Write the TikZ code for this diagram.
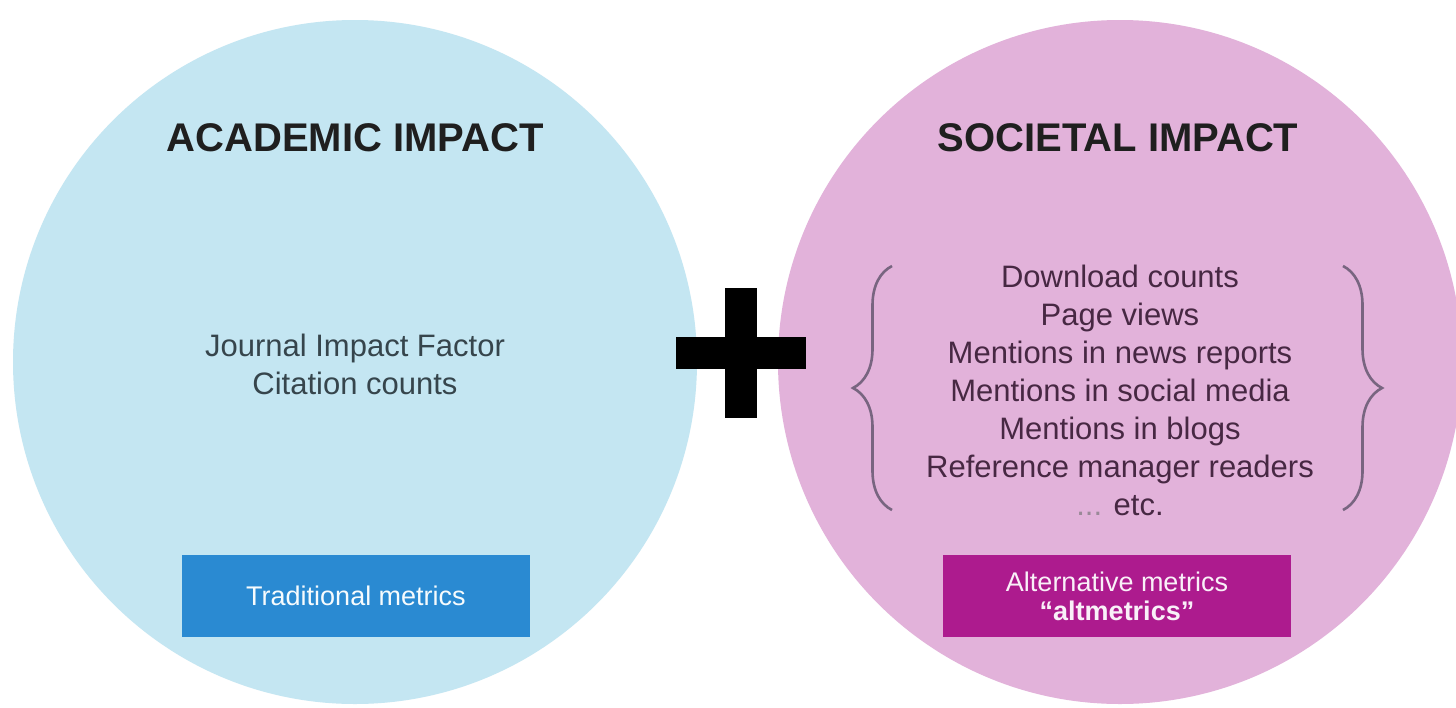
\documentclass[tikz,border=0pt]{standalone}
\usepackage{fontspec}
\setmainfont{Liberation Sans}
\usetikzlibrary{decorations.pathreplacing}
\definecolor{acadfill}{HTML}{C4E6F2}
\definecolor{socfill}{HTML}{E2B2DA}
\definecolor{acadbox}{HTML}{2A8AD2}
\definecolor{socbox}{HTML}{AD1B8E}
\definecolor{acadtext}{HTML}{36454C}
\definecolor{soctext}{HTML}{472843}
\definecolor{bracecol}{HTML}{786580}
\tikzset{impact/.style={circle,inner sep=0pt,minimum size=342pt},
    heading/.style={font=\fontsize{20}{24}\bfseries\selectfont,text=black!88},
    listing/.style={align=center,font=\fontsize{15.5}{19}\selectfont},
    metricbox/.style={minimum width=174pt,minimum height=41pt,align=center,
        font=\fontsize{13.5}{14.5}\selectfont}}

\begin{document}
\begin{tikzpicture}[x=0.5pt,y=-0.5pt,
        curly/.style={decorate,decoration={brace,amplitude=19.5pt},bracecol,line width=1.3pt}]
        \useasboundingbox[fill=white] (0,0) rectangle (1456,707);
        \node (acad) [impact,fill=acadfill] at (355,362) {};
        \node (soc) [impact,fill=socfill] at (1120,362) {};

        \node (acadhead) [heading] at (355,138) {ACADEMIC IMPACT};
        \node (sochead) [heading] at (1118,138) {SOCIETAL IMPACT};

        \node (acadlist) [listing,text=acadtext] at (355,364)
        {Journal Impact Factor\\Citation counts};
        \node (soclist) [listing,text=soctext] at (1120,390)
        {Download counts\\Page views\\Mentions in news reports\\Mentions in social media\\
         Mentions in blogs\\Reference manager readers\\\textcolor{soctext!55}{...} etc.};

        \node (tradbox) [metricbox,fill=acadbox,text=white!85!acadfill] at (356,596)
        {Traditional metrics};
        \node (altbox) [metricbox,fill=socbox,text=white!80!socfill] at (1117,596)
        {Alternative metrics\\\textbf{“altmetrics”}};

        \coordinate (lbrace top) at (892,266);
        \coordinate (lbrace bot) at (892,510);
        \coordinate (rbrace top) at (1343,266);
        \coordinate (rbrace bot) at (1343,510);
        \draw[curly] (lbrace bot) -- (lbrace top);
        \draw[curly] (rbrace top) -- (rbrace bot);

        \coordinate (plus) at (741,353);
        \fill (plus) +(-65,-16) rectangle +(65,16);
        \fill (plus) +(-16,-65) rectangle +(16,65);
\end{tikzpicture}
\end{document}
